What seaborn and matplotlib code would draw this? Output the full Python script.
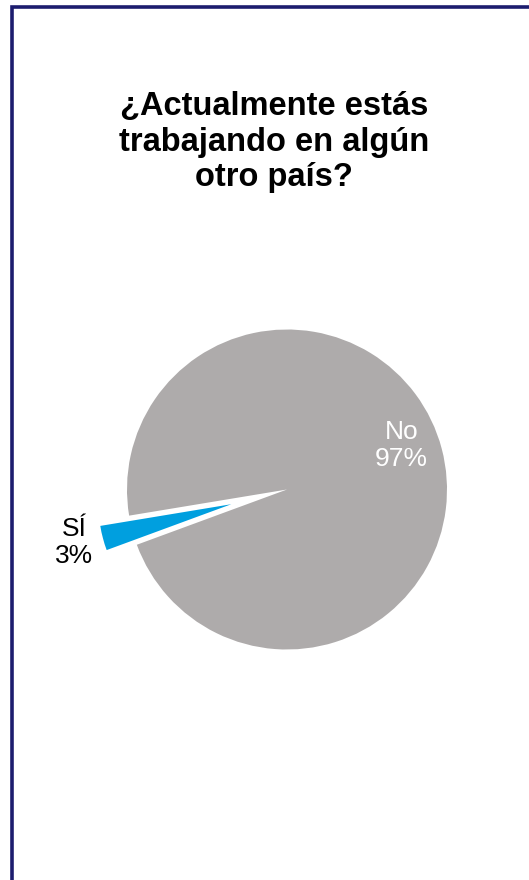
import matplotlib
matplotlib.use("Agg")
import matplotlib.pyplot as plt
import seaborn as sns
from matplotlib.patches import Rectangle

# datos
categorias = ["Sí", "No"]
etiquetas = ["SÍ", "No"]
porcentajes = [3, 97]
colores = ["#009FDF", "#AEABAB"]
titulo = "¿Actualmente estás\ntrabajando en algún\notro país?"

sns.set_style("white")
plt.rcParams['font.family'] = ['Liberation Sans', 'DejaVu Sans']

W, H = 529, 880
fig = plt.figure(figsize=(W / 100, H / 100), dpi=100)

# marco azul marino (abierto por la derecha y abajo)
fig.patches.append(Rectangle((11.5 / W, -0.1), 1.2, 1.1 - 7.5 / H,
                             transform=fig.transFigure, fill=False,
                             edgecolor="#1C1C6E", linewidth=2.6))

# ejes del pastel: centro (287, 489.5) px, radio ~163 px
cx, cy, r = 287, 489.5, 163.5
half = 200
ax = fig.add_axes([(cx - half) / W, (H - cy - half) / H, 2 * half / W, 2 * half / H])
lim = half / r
ax.set_xlim(-lim, lim)
ax.set_ylim(-lim, lim)
ax.set_aspect("equal")
ax.axis("off")

wedges, _ = ax.pie(porcentajes, colors=colores, startangle=189.4,
                   explode=[0.36, 0], radius=1, counterclock=True,
                   wedgeprops=dict(linewidth=0))
wedges[0].set_radius(0.83)

# etiquetas
ax.text(0.715, 0.275, f"{etiquetas[1]}\n{porcentajes[1]}%", color="white",
        ha="center", va="center", fontsize=19, linespacing=1.15)
ax.text(-1.33, -0.33, f"{etiquetas[0]}\n{porcentajes[0]}%", color="black",
        ha="center", va="center", fontsize=19, linespacing=1.15)

fig.text(274 / W, 1 - 142 / H, titulo, ha="center", va="center", color="black",
         fontsize=23.5, fontweight="bold", linespacing=1.2)

fig.savefig("out.png", dpi=100)
